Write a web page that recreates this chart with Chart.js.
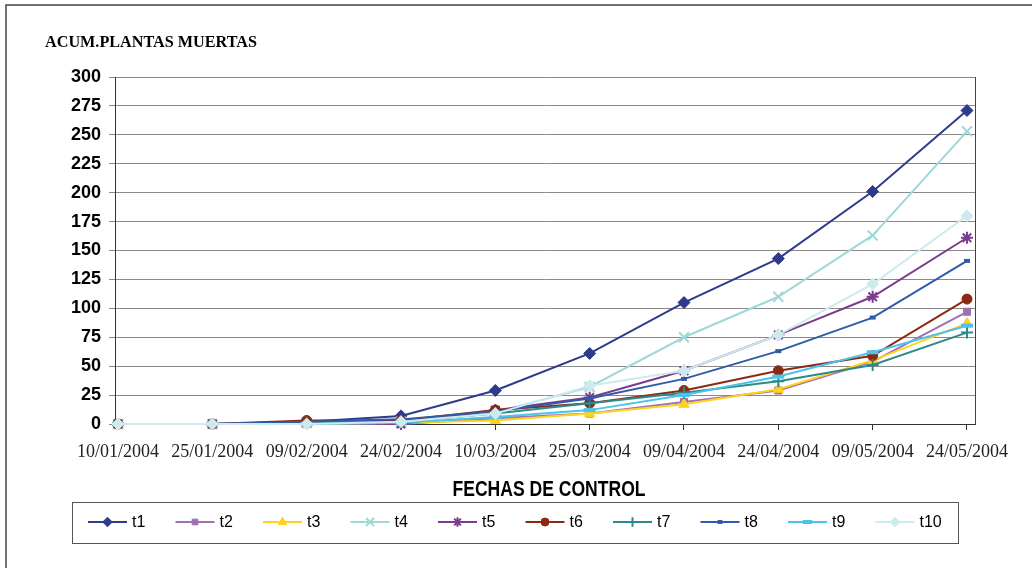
<!DOCTYPE html>
<html>
<head>
<meta charset="utf-8">
<script src="https://cdn.jsdelivr.net/npm/chart.js@4/dist/chart.umd.min.js"></script>
<style>
  html, body { margin: 0; padding: 0; background: #fff; }
  #wrap { width: 1032px; height: 568px; }
</style>
</head>
<body>
<div id="wrap"><canvas id="acum-chart" width="1032" height="568"></canvas></div>
<script>
// fechas de control (eje X)
const fechas = ['10/01/2004', '25/01/2004', '09/02/2004', '24/02/2004', '10/03/2004',
                '25/03/2004', '09/04/2004', '24/04/2004', '09/05/2004', '24/05/2004'];

// plantas muertas acumuladas por tratamiento
const t1  = [0, 0, 2, 7, 29, 61, 105, 143, 201, 271];
const t2  = [0, 0, 0, 0, 5, 9, 19, 29, 54, 97];
const t3  = [0, 0, 0, 1, 3, 9, 17, 30, 55, 87];
const t4  = [0, 0, 1, 2, 10, 32, 75, 110, 163, 253];
const t5  = [0, 0, 1, 0, 12, 23, 46, 77, 110, 161];
const t6  = [0, 0, 3, 3, 12, 18, 29, 46, 59, 108];
const t7  = [0, 0, 1, 2, 9, 18, 27, 37, 51, 79];
const t8  = [0, 0, 2, 4, 11, 22, 39, 63, 92, 141];
const t9  = [0, 0, 0, 1, 6, 12, 25, 41, 62, 85];
const t10 = [0, 0, 0, 2, 9, 33, 46, 77, 121, 180];

const yTicksMax = 300;
const yTicksStep = 25;

const tituloY = 'ACUM.PLANTAS MUERTAS';
const tituloX = 'FECHAS DE CONTROL';

// estilo de cada serie (aparte de los datos)
const series = [
    { label: 't1',  data: t1,  color: '#2E3A8C', style: 'rectRot',  r: 6, bw: 1 },
    { label: 't2',  data: t2,  color: '#A070B5', style: 'rect',     r: 5, bw: 1 },
    { label: 't3',  data: t3,  color: '#FFD21F', style: 'triangle', r: 6, bw: 1 },
    { label: 't4',  data: t4,  color: '#9FD8D8', style: 'crossRot', r: 7, bw: 2 },
    { label: 't5',  data: t5,  color: '#7B3B8E', style: 'star',     r: 6, bw: 2 },
    { label: 't6',  data: t6,  color: '#8B2A12', style: 'circle',   r: 5, bw: 1 },
    { label: 't7',  data: t7,  color: '#2E8A8A', style: 'cross',    r: 6, bw: 2 },
    { label: 't8',  data: t8,  color: '#2F5BA8', style: 'line',     r: 3, bw: 4 },
    { label: 't9',  data: t9,  color: '#4CC3EA', style: 'line',     r: 6, bw: 4 },
    { label: 't10', data: t10, color: '#CDEBEE', style: 'rectRot',  r: 6, bw: 1 }
];

// texto ajustado a un ancho dado (fuentes estrechas del original)
function fitText(c, text, x, y, width, font, align) {
    c.save();
    c.font = font;
    c.textBaseline = 'alphabetic';
    c.textAlign = 'left';
    const w = c.measureText(text).width;
    const sx = width / w;
    const x0 = align === 'center' ? x - width / 2 : x;
    c.translate(x0, y);
    c.scale(sx, 1);
    c.fillText(text, 0, 0);
    c.restore();
}

const decor = {
    id: 'decor',
    afterDraw(chart) {
        const c = chart.ctx;
        const a = chart.chartArea;
        c.save();
        // marco exterior
        c.strokeStyle = '#444';
        c.lineWidth = 1.5;
        c.beginPath();
        c.moveTo(6, 568);
        c.lineTo(6, 5);
        c.lineTo(1032, 5);
        c.stroke();
        // borde derecho del área de trazado
        c.strokeStyle = '#444';
        c.lineWidth = 1;
        c.beginPath();
        c.moveTo(a.right + 0.5, a.top);
        c.lineTo(a.right + 0.5, a.bottom);
        c.stroke();
        // títulos
        c.fillStyle = '#000';
        fitText(c, tituloY, 45, 47, 212, 'bold 16px "Liberation Serif"', 'left');
        fitText(c, tituloX, 549, 496, 193, 'bold 22px "Liberation Sans"', 'center');
        // leyenda
        c.strokeStyle = '#555';
        c.lineWidth = 1;
        c.strokeRect(72.5, 502.5, 886, 41);
        const ly = 522;
        c.font = '16px "Liberation Sans"';
        c.textBaseline = 'middle';
        c.textAlign = 'left';
        chart.data.datasets.forEach((ds, i) => {
            const x0 = 88 + i * 87.5;
            c.strokeStyle = ds.borderColor;
            c.lineWidth = 2;
            c.beginPath();
            c.moveTo(x0, ly);
            c.lineTo(x0 + 39, ly);
            c.stroke();
            c.fillStyle = ds.pointBackgroundColor;
            c.strokeStyle = ds.pointBorderColor;
            c.lineWidth = ds.pointBorderWidth;
            Chart.helpers.drawPoint(c, {
                pointStyle: ds.pointStyle,
                rotation: 0,
                radius: ds.pointRadius * 0.8,
                borderWidth: ds.pointBorderWidth
            }, x0 + 19.5, ly);
            c.fillStyle = '#000';
            c.fillText(ds.label, x0 + 44, ly + 1);
        });
        c.restore();
    }
};

const ctx = document.getElementById('acum-chart').getContext('2d');
const myChart = new Chart(ctx, {
    type: 'line',
    data: {
        datasets: series.map((s, i) => ({
            label: s.label,
            data: s.data.map((v, k) => ({ x: k, y: v })),
            borderColor: s.color,
            backgroundColor: s.color,
            borderWidth: 2,
            pointStyle: s.style,
            pointRadius: s.r,
            pointBackgroundColor: s.color,
            pointBorderColor: s.color,
            pointBorderWidth: s.bw,
            tension: 0,
            clip: false,
            order: series.length - i
        }))
    },
    options: {
        responsive: false,
        animation: false,
        devicePixelRatio: 1,
        layout: { padding: { left: 0, top: 77, right: 57, bottom: 0 } },
        plugins: {
            legend: { display: false },
            title: { display: false },
            tooltip: { enabled: false }
        },
        scales: {
            x: {
                type: 'linear',
                min: -0.032,
                max: 9.085,
                afterFit(scale) { scale.height = 144; },
                grid: { drawOnChartArea: false, tickLength: 6, color: '#333' },
                border: { color: '#333', width: 1 },
                ticks: {
                    stepSize: 1,
                    includeBounds: false,
                    autoSkip: false,
                    maxRotation: 0,
                    padding: 11,
                    color: '#222',
                    font: { family: '"Liberation Serif"', size: 18 },
                    callback: v => fechas[v] !== undefined && Number.isInteger(v) ? fechas[v] : ''
                }
            },
            y: {
                min: 0,
                max: yTicksMax,
                afterFit(scale) { scale.width = 115; },
                grid: { color: '#8a8a8a', tickLength: 6 },
                border: { color: '#333', width: 1 },
                ticks: {
                    stepSize: yTicksStep,
                    padding: 8,
                    color: '#000',
                    font: { family: '"Liberation Sans"', size: 18, weight: 'bold' }
                }
            }
        }
    },
    plugins: [decor]
});
</script>
</body>
</html>
